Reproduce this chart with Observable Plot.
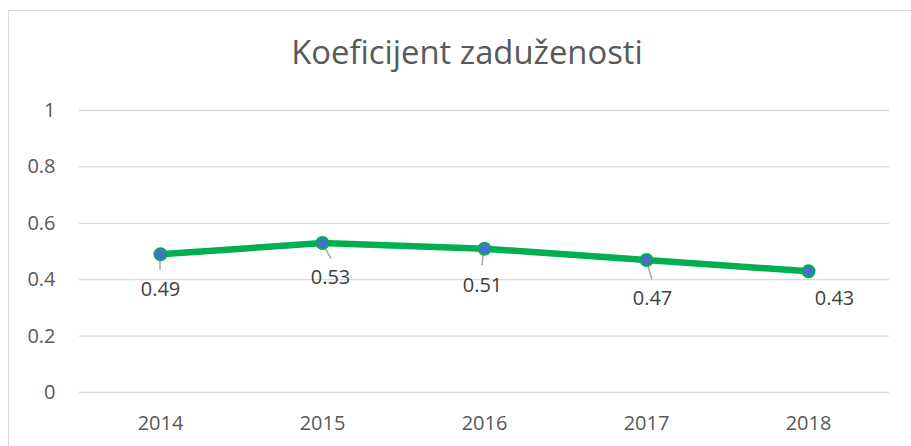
<!DOCTYPE html>
<html>
<head>
<meta charset="utf-8">
<script src="https://cdn.jsdelivr.net/npm/d3@7"></script>
<script src="https://cdn.jsdelivr.net/npm/@observablehq/plot@0.6"></script>
<style>
  html, body { margin: 0; padding: 0; background: #fff; overflow: hidden; }
  #wrap { position: relative; width: 911px; height: 446px; overflow: hidden; font-family: "Open Sans", sans-serif; }
  #frame { position: absolute; left: 8px; top: 10px; width: 1200px; height: 1200px; border-left: 1px solid #d9d9d9; border-top: 1px solid #d9d9d9; box-sizing: border-box; }
  #title { position: absolute; left: 0; top: 36px; width: 934px; text-align: center; font-size: 32.8px; line-height: 32px; color: #595959; }
  #chart { position: absolute; left: 0; top: 0; }
  #chart svg text { font-size: 20px; }
</style>
</head>
<body>
<div id="wrap">
  <div id="frame"></div>
  <div id="chart"></div>
  <div id="title">Koeficijent zaduženosti</div>
</div>
<script>
const years = ["2014", "2015", "2016", "2017", "2018"];
const values = [0.49, 0.53, 0.51, 0.47, 0.43];
const valueLabels = ["0.49", "0.53", "0.51", "0.47", "0.43"];
const yTicks = [0, 0.2, 0.4, 0.6, 0.8, 1];

// layout: label offsets (px) and leader end offsets (px) relative to each point
const labelOffsets = [[0, 35], [8, 35], [-2, 37], [6, 39], [26, 27]];
const leaderOffsets = [[0, 16], [9, 16], [-2, 17], [6, 20], null];

const data = years.map((y, i) => ({year: y, value: values[i], label: valueLabels[i], i}));

const leaderMark = function(...args) {
  const scales = args.find(a => a && typeof a.x === "function" && typeof a.y === "function");
  const g = d3.create("svg:g");
  if (!scales) return g.node();
  data.forEach((d, i) => {
    const off = leaderOffsets[i];
    if (!off) return;
    const px = scales.x(d.year), py = scales.y(d.value);
    g.append("line")
      .attr("x1", px).attr("y1", py)
      .attr("x2", px + off[0]).attr("y2", py + off[1])
      .attr("stroke", "#a6a6a6").attr("stroke-width", 1.5);
  });
  return g.node();
};

const labelMarks = data.map((d, i) => Plot.text([d], {
  x: "year", y: "value", text: "label",
  dx: labelOffsets[i][0], dy: labelOffsets[i][1],
  fill: "#404040", fontSize: 20
}));

const chart = Plot.plot({
  width: 911,
  height: 446,
  marginLeft: 79,
  marginRight: 22,
  marginTop: 110,
  marginBottom: 54,
  style: {fontFamily: "Open Sans, sans-serif", fontSize: "20px", background: "transparent", overflow: "visible"},
  x: {type: "point", domain: years, padding: 0.5, label: null},
  y: {domain: [0, 1], label: null},
  marks: [
    Plot.ruleY(yTicks, {stroke: "#d9d9d9", strokeWidth: 1.3, strokeOpacity: 1}),
    Plot.axisY(yTicks, {tickSize: 0, tickPadding: 24, tickFormat: d => String(d), fontSize: 20, fill: "#595959", label: null}),
    Plot.axisX({tickSize: 0, tickPadding: 23, fontSize: 20, fill: "#595959", label: null}),
    leaderMark,
    Plot.line(data, {x: "year", y: "value", stroke: "#00b050", strokeWidth: 6.5, strokeLinecap: "round", strokeLinejoin: "round"}),
    Plot.dot(data, {x: "year", y: "value", r: 6, fill: "#4472c4", stroke: "#00b050", strokeWidth: 2}),
    ...labelMarks
  ]
});
document.getElementById("chart").appendChild(chart);
</script>
</body>
</html>
